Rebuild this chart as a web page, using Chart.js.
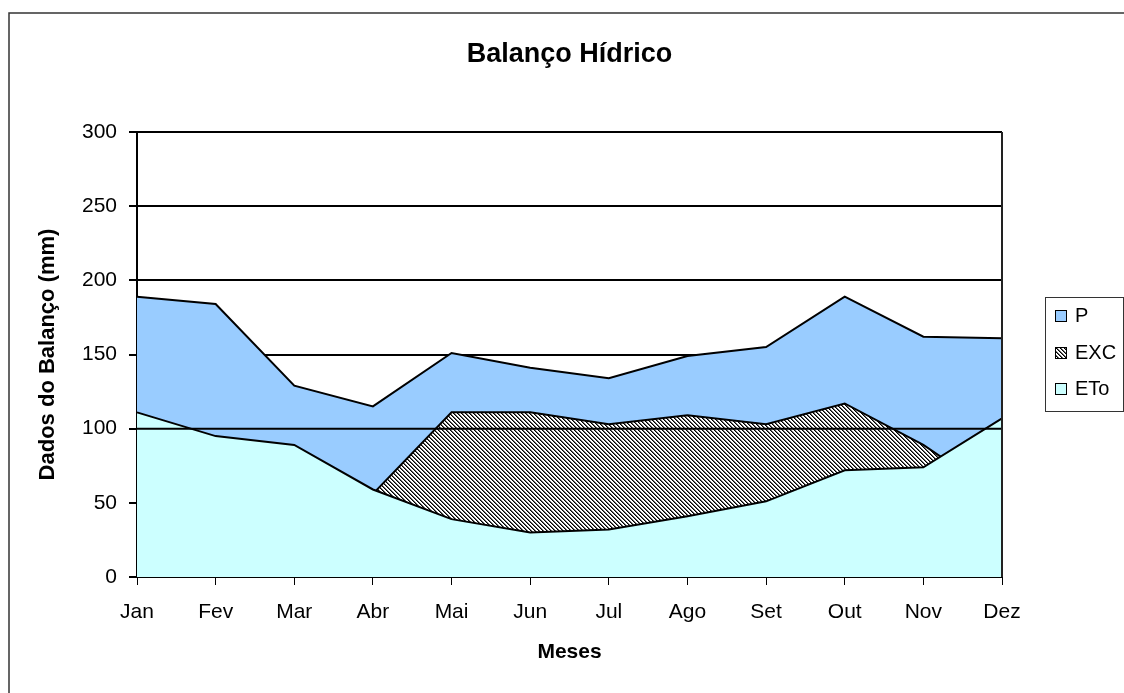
<!DOCTYPE html>
<html>
<head>
<meta charset="utf-8">
<script src="https://cdn.jsdelivr.net/npm/chart.js@4"></script>
<style>
  body { margin: 0; background: #fff; }
</style>
</head>
<body>
<canvas id="myChart" width="1124" height="693"></canvas>
<script>
// dados (mm)
const meses = ['Jan', 'Fev', 'Mar', 'Abr', 'Mai', 'Jun', 'Jul', 'Ago', 'Set', 'Out', 'Nov', 'Dez'];
const valoresP = [189, 184, 129, 115, 151, 141, 134, 149, 155, 189, 162, 161];
const valoresEXC = [78, 89, 41, 56, 111, 111, 103, 109, 103, 117, 89, 53];
const valoresETo = [111, 95, 89, 59, 39, 30, 32, 41, 51, 72, 74, 107];
const valoresCAD = [100, 100, 100, 100, 100, 100, 100, 100, 100, 100, 100, 100];
const ticksY = [0, 50, 100, 150, 200, 250, 300];

const titulo = 'Balanço Hídrico';
const fonte = "'Liberation Sans', Arial, sans-serif";

function hachura() {
    const c = document.createElement('canvas');
    c.width = 4;
    c.height = 4;
    const g = c.getContext('2d');
    g.fillStyle = '#ffffff';
    g.fillRect(0, 0, 4, 4);
    for (let i = 0; i < 4; i++) {
        g.fillStyle = '#000000';
        g.fillRect(i, i, 1, 1);
        g.fillStyle = '#666666';
        g.fillRect((i + 1) % 4, i, 1, 1);
    }
    return g.createPattern(c, 'repeat');
}
const padraoEXC = hachura();

// titulo, moldura, borda da area de plotagem e legenda
const molduraPlugin = {
    id: 'moldura',
    afterDraw(chart) {
        const ctx = chart.ctx;
        const area = chart.chartArea;
        ctx.save();
        // titulo centrado na area de plotagem
        ctx.fillStyle = '#000000';
        ctx.font = 'bold 27px ' + fonte;
        ctx.textAlign = 'center';
        ctx.textBaseline = 'middle';
        ctx.fillText(titulo, (area.left + area.right) / 2, 55);
        // borda externa
        ctx.strokeStyle = '#333333';
        ctx.lineWidth = 1.5;
        ctx.beginPath();
        ctx.moveTo(9, 693);
        ctx.lineTo(9, 13);
        ctx.lineTo(1124, 13);
        ctx.stroke();
        // borda direita da area de plotagem
        ctx.strokeStyle = '#222222';
        ctx.lineWidth = 2;
        ctx.beginPath();
        ctx.moveTo(area.right, area.top);
        ctx.lineTo(area.right, area.bottom);
        ctx.stroke();
        // legenda
        ctx.strokeStyle = '#333333';
        ctx.lineWidth = 1;
        ctx.fillStyle = '#ffffff';
        ctx.fillRect(1045, 297, 80, 115);
        ctx.strokeRect(1045.5, 297.5, 78, 114);
        const itens = [0, 1, 2];
        ctx.font = '20px ' + fonte;
        ctx.textBaseline = 'middle';
        ctx.textAlign = 'left';
        itens.forEach((idx, k) => {
            const ds = chart.data.datasets[idx];
            const y = Math.round(316 + k * 36.5);
            ctx.fillStyle = ds.backgroundColor;
            ctx.fillRect(1055, y - 6, 12, 12);
            ctx.strokeStyle = '#000000';
            ctx.lineWidth = 1;
            ctx.strokeRect(1055.5, y - 5.5, 11, 11);
            ctx.fillStyle = '#000000';
            ctx.fillText(ds.label, 1075, y);
        });
        ctx.restore();
    }
};

const canvas = document.getElementById('myChart').getContext('2d');
const myChart = new Chart(canvas, {
    type: 'line',
    data: {
        labels: meses,
        datasets: [
            {
                label: 'P',
                data: valoresP,
                backgroundColor: '#99CCFF',
                borderColor: '#000000',
                borderWidth: 2,
                fill: 'origin',
                order: 4
            },
            {
                label: 'EXC',
                data: valoresEXC,
                backgroundColor: padraoEXC,
                borderColor: '#000000',
                borderWidth: 2,
                fill: 'origin',
                order: 3
            },
            {
                label: 'ETo',
                data: valoresETo,
                backgroundColor: '#CCFFFF',
                borderColor: '#000000',
                borderWidth: 2,
                fill: 'origin',
                order: 2
            },
            {
                label: 'CAD',
                data: valoresCAD,
                borderColor: '#000000',
                borderWidth: 2,
                fill: false,
                order: 1
            }
        ]
    },
    options: {
        responsive: false,
        animation: false,
        devicePixelRatio: 1,
        elements: {
            point: { radius: 0, hoverRadius: 0 },
            line: { tension: 0 }
        },
        layout: {
            padding: { left: 0, top: 132, right: 122, bottom: 0 }
        },
        plugins: {
            legend: { display: false },
            tooltip: { enabled: false },
            title: { display: false }
        },
        scales: {
            x: {
                offset: false,
                grid: {
                    drawOnChartArea: false,
                    drawTicks: true,
                    tickLength: 8,
                    color: '#000000'
                },
                border: { color: '#000000', width: 2 },
                ticks: {
                    color: '#000000',
                    font: { family: fonte, size: 21 },
                    padding: 15,
                    maxRotation: 0,
                    autoSkip: false
                },
                title: {
                    display: true,
                    text: 'Meses',
                    color: '#000000',
                    font: { family: fonte, size: 21, weight: 'bold' },
                    padding: { top: 0, bottom: 28 }
                },
                afterFit(scale) {
                    scale.height = 116;
                }
            },
            y: {
                min: 0,
                max: 300,
                afterBuildTicks(scale) {
                    scale.ticks = ticksY.map(v => ({ value: v }));
                },
                grid: {
                    color: '#000000',
                    lineWidth: 2,
                    drawTicks: true,
                    tickLength: 8
                },
                border: { color: '#000000', width: 2 },
                ticks: {
                    color: '#000000',
                    font: { family: fonte, size: 21 },
                    padding: 12
                },
                title: {
                    display: true,
                    text: 'Dados do Balanço (mm)',
                    color: '#000000',
                    font: { family: fonte, size: 22, weight: 'bold' },
                    padding: { top: 35, bottom: 0 }
                },
                afterFit(scale) {
                    scale.width = 137;
                }
            }
        }
    },
    plugins: [molduraPlugin]
});
</script>
</body>
</html>
